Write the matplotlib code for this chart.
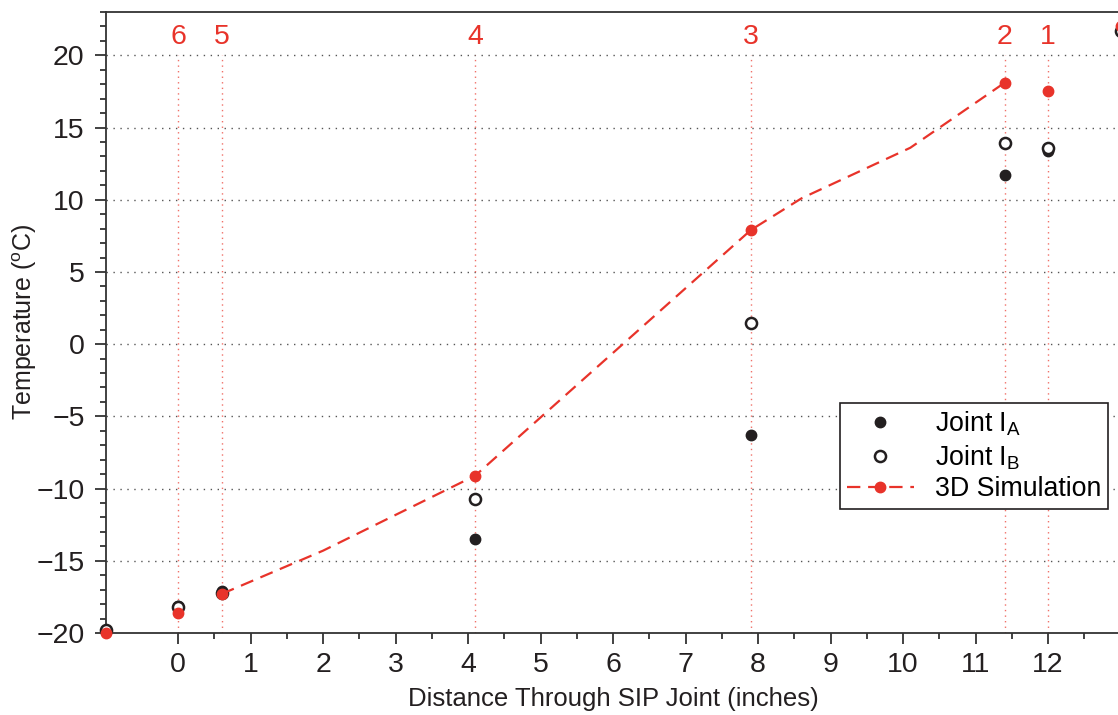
import matplotlib
matplotlib.use("Agg")
import matplotlib.pyplot as plt
from matplotlib.ticker import MultipleLocator, FixedLocator

plt.rcParams['font.family'] = ['Liberation Sans', 'DejaVu Sans']
plt.rcParams['mathtext.fontset'] = 'custom'
plt.rcParams['mathtext.rm'] = 'Liberation Sans'
plt.rcParams['mathtext.it'] = 'Liberation Sans:italic'

# Sensor positions through the joint (inches)
sensor_x = [-1.0, 0.0, 0.6, 4.1, 7.9, 11.4, 12.0, 13.0]
joint_a = [-19.8, -18.1, -17.1, -13.5, -6.3, 11.7, 13.4, 21.7]
joint_b = [-19.8, -18.2, -17.2, -10.7, 1.5, 13.9, 13.6, 21.7]
sim_at_sensors = [-20.0, -18.6, -17.3, -9.1, 7.9, 18.1, 17.5, 22.0]

# Simulated temperature profile through the joint
sim_profile_x = [0.6, 2.0, 4.1, 7.9, 8.6, 10.1, 11.4]
sim_profile_y = [-17.3, -14.3, -9.1, 7.9, 10.1, 13.6, 18.1]

# Numbered sensor locations
loc_x = [0.0, 0.6, 4.1, 7.9, 11.4, 12.0]
loc_labels = ['6', '5', '4', '3', '2', '1']

RED = '#e8332a'
DARK = '#231f20'
FS_TICK = 20.5
FS_LABEL = 18.5
FS_LEG = 19.3

fig = plt.figure(figsize=(11.18, 7.15), dpi=100)
ax = fig.add_axes([0.0944, 0.1147, 0.9079, 0.8685])
ax.set_xlim(-1, 13)
ax.set_ylim(-20, 23)

# horizontal dotted grid
for yv in range(-15, 21, 5):
    ax.axhline(yv, color='#555555', lw=1.0, ls=(0, (1, 4)), zorder=1)

# vertical dotted markers at sensor locations with labels
for xv, lab in zip(loc_x, loc_labels):
    ax.plot([xv, xv], [-20, 20], color='#f07068', lw=1.0, ls=(0, (1, 3)), zorder=1)
    ax.text(xv, 21.3, lab, color=RED, fontsize=FS_TICK, ha='center', va='center')

ax.plot(sensor_x, joint_a, ls='none', marker='o', ms=7.5, color=DARK,
        mec=DARK, zorder=3, clip_on=False)
ax.plot(sensor_x, joint_b, ls='none', marker='o', ms=8, mfc='white',
        mec=DARK, mew=1.8, zorder=4, clip_on=False)
ax.plot(sim_profile_x, sim_profile_y, color=RED, lw=1.6, dashes=(6, 3.5), zorder=5)
ax.plot(sensor_x, sim_at_sensors, ls='none', marker='o', ms=7.5, color=RED,
        zorder=6, clip_on=False)

# legend handles
h_a, = ax.plot([], [], ls='none', marker='o', ms=7.5, color=DARK)
h_b, = ax.plot([], [], ls='none', marker='o', ms=8, mfc='white', mec=DARK, mew=1.8)
h_sim, = ax.plot([], [], color=RED, lw=1.6, dashes=(6, 3.5), marker='o', ms=7.5)
labels = [r'Joint I$_\mathrm{A}$', r'Joint I$_\mathrm{B}$', '3D Simulation']
leg = ax.legend([h_a, h_b, h_sim], labels, loc='upper right',
                bbox_to_anchor=(0.9877, 0.3704),
                fontsize=FS_LEG, frameon=True, fancybox=False, framealpha=1,
                edgecolor=DARK, borderpad=0.25, handlelength=2.5, labelspacing=0.18,
                handletextpad=0.8, borderaxespad=0)
leg.get_frame().set_linewidth(1.2)

# axes styling
ax.spines['right'].set_visible(False)
for s in ['left', 'bottom', 'top']:
    ax.spines[s].set_color('#333333')
    ax.spines[s].set_linewidth(1.3)

ax.xaxis.set_major_locator(FixedLocator(range(0, 13)))
ax.xaxis.set_minor_locator(FixedLocator([i + 0.5 for i in range(0, 13)]))
ax.yaxis.set_major_locator(FixedLocator(range(-20, 21, 5)))
ax.yaxis.set_minor_locator(MultipleLocator(1))
ax.tick_params(axis='both', which='major', direction='out', length=8, width=1.3,
               color='#333333', labelsize=FS_TICK, labelcolor=DARK)
ax.tick_params(axis='x', which='major', pad=6)
ax.tick_params(axis='y', which='major', pad=7)
ax.tick_params(axis='both', which='minor', direction='out', length=4.5, width=1.3,
               color='#333333')
ax.tick_params(top=False, right=False, which='both')
ax.set_yticklabels(['\u221220', '\u221215', '\u221210', '\u22125', '0', '5', '10', '15', '20'])

ax.set_xlabel('Distance Through SIP Joint (inches)', fontsize=FS_LABEL, color=DARK, labelpad=6)
ax.set_ylabel(r'Temperature ($^\mathrm{o}$C)', fontsize=FS_LABEL - 0.5, color=DARK)
ax.yaxis.set_label_coords(-0.0793, 0.5)
ax.yaxis.label.set_verticalalignment('center')

fig.savefig('out.png', dpi=100)
